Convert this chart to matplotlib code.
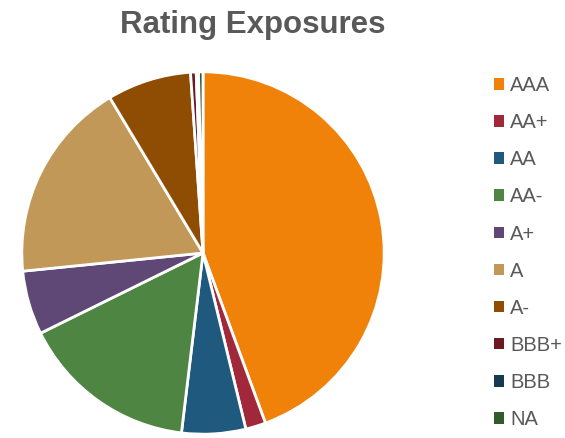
import matplotlib
matplotlib.use("Agg")
from matplotlib import pyplot as plt
from matplotlib.patches import Patch

plt.rcParams['font.family'] = ['Liberation Sans', 'DejaVu Sans']

labels = ['AAA', 'AA+', 'AA', 'AA-', 'A+', 'A', 'A-', 'BBB+', 'BBB', 'NA']
shares = [44.4, 1.8, 5.7, 15.8, 5.7, 18.0, 7.5, 0.5, 0.2, 0.4]
colors = ['#F0820A', '#A0283A', '#1F5A7E', '#4E8542', '#5F4776',
          '#C29858', '#8F4D04', '#6B1A22', '#153A52', '#335A2C']

fig = plt.figure(figsize=(5.65, 4.38), dpi=100)

# pie box in pixels: x 20-386, y 71-436
ax = fig.add_axes([20 / 565, 2 / 438, 366 / 565, 366 / 438])
ax.pie(shares, colors=colors, startangle=90, counterclock=False,
       wedgeprops=dict(edgecolor='white', linewidth=2))
ax.set_xlim(-1.01, 1.01)
ax.set_ylim(-1.01, 1.01)
ax.set_aspect('equal')
ax.axis('off')

fig.text(253 / 565, 1 - 25 / 438, 'Rating Exposures', ha='center', va='center',
         fontsize=22.5, fontweight='bold', color='#595959')

handles = [Patch(facecolor=c, edgecolor='none') for c in colors]
leg = fig.legend(handles, labels, loc='upper left',
                 bbox_to_anchor=(494 / 565, 1 - 76 / 438),
                 frameon=False, fontsize=14.5, labelcolor='#595959',
                 handlelength=0.5, handleheight=0.5, handletextpad=0.3,
                 labelspacing=0.9, borderpad=0, borderaxespad=0)

fig.savefig('out.png', dpi=100)
